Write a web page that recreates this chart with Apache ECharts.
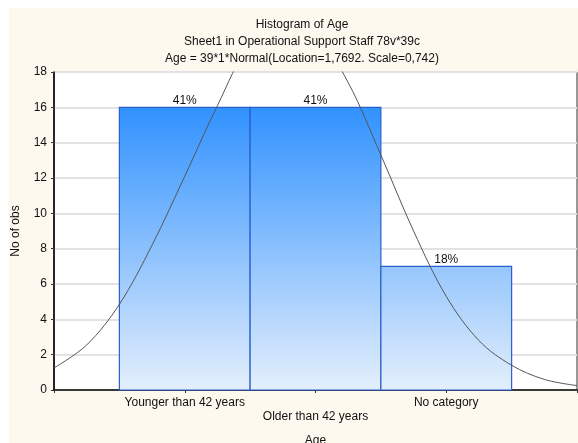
<!DOCTYPE html>
<html>
<head>
<meta charset="utf-8">
<script src="https://cdn.jsdelivr.net/npm/echarts@6/dist/echarts.min.js"></script>
<style>
    html, body { margin: 0; padding: 0; background: #fff; overflow: hidden; }
    #frame { position: absolute; left: 9px; top: 8px; width: 569px; height: 435px; background: #fdf9ef; }
    #chart { position: absolute; left: 0; top: 0; width: 578px; height: 443px; }
</style>
</head>
<body>
<div id="frame"></div>
<div id="chart"></div>
<script>
// categories of the histogram, placed at x = 1, 2, 3
var categories = ['Younger than 42 years', 'Older than 42 years', 'No category'];
var counts = [16, 16, 7];
var yTicks = [0, 2, 4, 6, 8, 10, 12, 14, 16, 18];

// fitted normal curve (x in category units, y in obs)
var curveX = [0, 0.25, 0.5, 0.75, 1.0, 1.25, 1.5, 1.75, 2.0, 2.25, 2.5, 2.75, 3.0, 3.25, 3.5, 3.75, 4.0];
var curveY = [1.25, 2.55, 4.85, 8.2, 12.1, 16.1, 19.6, 21.0, 20.2, 17.4, 13.3, 9.0, 5.3, 2.8, 1.4, 0.6, 0.25];

var total = counts.reduce(function (a, b) { return a + b; }, 0);

var chart = echarts.init(document.getElementById('chart'));
var font = 'Liberation Sans, Arial, sans-serif';

var barFill = new echarts.graphic.LinearGradient(0, 72, 0, 390, [
    { offset: 0, color: '#1a86ff' },
    { offset: 1, color: '#e4effc' }
], true);

var option = {
    backgroundColor: 'transparent',
    textStyle: { fontFamily: font },
    animation: false,
    title: {
        text: 'Histogram of Age\nSheet1 in Operational Support Staff 78v*39c\nAge = 39*1*Normal(Location=1,7692. Scale=0,742)',
        left: 297,
        top: 11,
        textAlign: 'center',
        textStyle: { fontSize: 12, fontWeight: 'normal', color: '#111', lineHeight: 17, fontFamily: font }
    },
    grid: {
        left: 54, right: 1, top: 72, bottom: 53,
        outerBoundsMode: 'none',
        show: true, backgroundColor: '#fff', borderColor: '#333', borderWidth: 1
    },
    xAxis: [{
        type: 'value', min: 0, max: 4, interval: 1,
        name: 'Age', nameLocation: 'middle', nameGap: 45,
        nameTextStyle: { fontSize: 12, color: '#111' },
        axisLine: { show: true, lineStyle: { color: '#000', width: 1.5 } },
        axisTick: { inside: true, length: 3, lineStyle: { color: '#333' } },
        splitLine: { show: false },
        axisLabel: {
            fontSize: 12, color: '#111', margin: 6, lineHeight: 14,
            showMinLabel: false, showMaxLabel: false,
            formatter: function (v) {
                var name = categories[v - 1];
                if (!name) return '';
                return v === 2 ? '\n' + name : name;
            }
        }
    }, {
        type: 'value', position: 'top', min: 0, max: 4, interval: 1,
        axisLine: { show: false },
        axisTick: { inside: true, length: 3, lineStyle: { color: '#333' } },
        axisLabel: { show: false },
        splitLine: { show: false }
    }],
    yAxis: [{
        type: 'value', min: yTicks[0], max: yTicks[yTicks.length - 1], interval: 2,
        name: 'No of obs', nameLocation: 'middle', nameGap: 32,
        nameTextStyle: { fontSize: 12, color: '#111' },
        axisLine: { show: true, lineStyle: { color: '#000', width: 1.5 } },
        axisTick: { show: true, length: 3, lineStyle: { color: '#333' } },
        axisLabel: { fontSize: 12, color: '#111', margin: 7 },
        splitLine: { lineStyle: { color: '#e2e2e2', width: 2 } }
    }, {
        type: 'value', position: 'right', min: 0, max: 18, interval: 2,
        axisLine: { show: false },
        axisTick: { inside: true, length: 3, lineStyle: { color: '#333' } },
        axisLabel: { show: false },
        splitLine: { show: false }
    }],
    series: [{
        type: 'custom',
        data: counts.map(function (c, i) { return [i + 1, c]; }),
        renderItem: function (params, api) {
            var x = api.value(0), y = api.value(1);
            var p0 = api.coord([x - 0.5, y]);
            var p1 = api.coord([x + 0.5, 0]);
            var pct = Math.round(y / total * 100) + '%';
            return {
                type: 'group',
                children: [{
                    type: 'rect',
                    shape: { x: p0[0], y: p0[1], width: p1[0] - p0[0], height: p1[1] - p0[1] },
                    style: { fill: barFill, stroke: '#2a5fcc', lineWidth: 1.2 }
                }, {
                    type: 'text',
                    x: (p0[0] + p1[0]) / 2, y: p0[1] - 1,
                    style: {
                        text: pct, fill: '#111', font: '12px ' + font,
                        align: 'center', verticalAlign: 'bottom'
                    }
                }]
            };
        }
    }, {
        type: 'line',
        data: curveX.map(function (x, i) { return [x, curveY[i]]; }),
        smooth: 0.35,
        showSymbol: false,
        clip: true,
        lineStyle: { color: '#555', width: 1 },
        z: 5
    }]
};

chart.setOption(option);
</script>
</body>
</html>
